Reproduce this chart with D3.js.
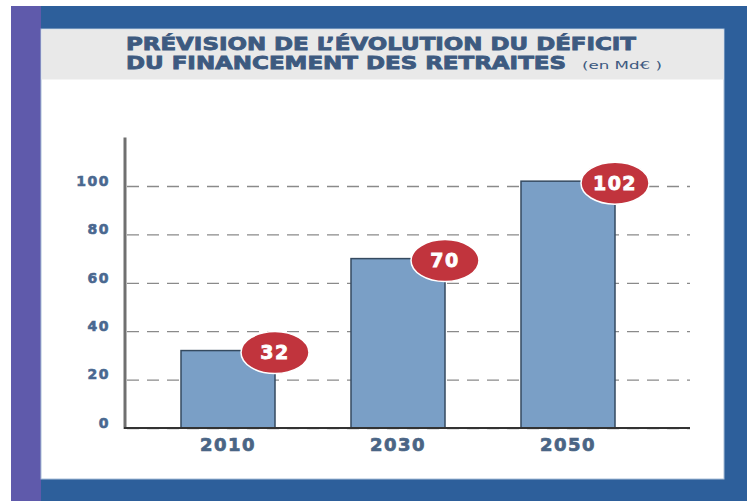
<!DOCTYPE html>
<html>
<head>
<meta charset="utf-8">
<script src="https://cdn.jsdelivr.net/npm/d3@7"></script>
<style>
  body { margin: 0; background: #fff; }
  svg { display: block; }
</style>
</head>
<body>
<div id="chart"></div>
<script>
// Données
const years = ["2010", "2030", "2050"];
const deficits = [32, 70, 102];
const yTicks = [0, 20, 40, 60, 80, 100];
const titleLines = ["PRÉVISION DE L’ÉVOLUTION DU DÉFICIT", "DU FINANCEMENT DES RETRAITES"];
const unitLabel = "(en Md€ )";

const W = 747, H = 501;
const svg = d3.select("#chart").append("svg")
    .attr("width", W)
    .attr("height", H);

// Cadre
svg.append("rect").attr("x", 11).attr("y", 6).attr("width", 30).attr("height", H - 6).attr("fill", "#5f5aab");
svg.append("rect").attr("x", 41).attr("y", 6).attr("width", W - 41).attr("height", H - 6).attr("fill", "#2d5f9b");
svg.append("rect").attr("x", 41).attr("y", 29).attr("width", 683).attr("height", 450)
    .attr("fill", "#fff").attr("stroke", "#a9bfd8").attr("stroke-width", 1);
svg.append("rect").attr("x", 41.5).attr("y", 29.5).attr("width", 682).attr("height", 50).attr("fill", "#e9e9e9");

// Titre (trait léger pour épaissir les lettres)
const font = "'DejaVu Sans', Verdana, sans-serif";
const titleWidths = [510, 440];
titleLines.forEach((t, i) => {
    svg.append("text")
        .attr("x", 126)
        .attr("y", 50 + i * 19)
        .attr("font-family", font)
        .attr("font-weight", "bold")
        .attr("font-size", 17)
        .attr("fill", "#3d5a80")
        .attr("stroke", "#3d5a80")
        .attr("stroke-width", 0.8)
        .attr("textLength", titleWidths[i])
        .attr("lengthAdjust", "spacingAndGlyphs")
        .text(t);
});
svg.append("text")
    .attr("x", 582)
    .attr("y", 69)
    .attr("font-family", font)
    .attr("font-size", 10)
    .attr("fill", "#3d5a80")
    .attr("textLength", 80)
    .attr("lengthAdjust", "spacingAndGlyphs")
    .text(unitLabel);

// Échelles
const x0 = 125, x1 = 690, yBase = 428;
const x = d3.scaleBand()
    .domain(years)
    .range([130, 666])
    .paddingInner(0.447)
    .paddingOuter(0.3);

const y = d3.scaleLinear()
    .domain([0, 120])
    .range([yBase, yBase - 120 * 2.42]);

// Grille + étiquettes Y
const gy = svg.append("g")
    .attr("transform", `translate(${x0},0)`)
    .call(d3.axisLeft(y).tickValues(yTicks).tickSize(-(x1 - x0)).tickPadding(15));
gy.select(".domain").remove();
gy.selectAll(".tick line")
    .attr("stroke", "#8a8a8a")
    .attr("stroke-width", 1.3)
    .attr("stroke-dasharray", "12,8")
    .attr("x1", 2);
gy.selectAll(".tick text")
    .attr("dy", "-0.05em")
    .attr("font-family", font)
    .attr("font-weight", "bold")
    .attr("font-size", 14)
    .attr("letter-spacing", 1.5)
    .attr("fill", "#4a6890")
    .attr("stroke", "#4a6890")
    .attr("stroke-width", 0.6);

// Barres
svg.selectAll(".bar")
    .data(deficits)
    .enter()
    .append("rect")
    .attr("class", "bar")
    .attr("x", (d, i) => x(years[i]))
    .attr("y", d => y(d))
    .attr("width", x.bandwidth())
    .attr("height", d => yBase - y(d))
    .attr("fill", "#7a9fc6")
    .attr("stroke", "#354a60")
    .attr("stroke-width", 1.5);

// Axe Y (trait vertical)
svg.append("line")
    .attr("x1", x0).attr("x2", x0)
    .attr("y1", y(120)).attr("y2", yBase + 1)
    .attr("stroke", "#707070")
    .attr("stroke-width", 3);

// Axe X
const gx = svg.append("g")
    .attr("transform", `translate(0,${yBase})`)
    .call(d3.axisBottom(x).tickSize(0).tickPadding(10));
gx.select(".domain").remove();
gx.selectAll(".tick text")
    .attr("font-family", font)
    .attr("font-weight", "bold")
    .attr("font-size", 18)
    .attr("letter-spacing", 1.5)
    .attr("fill", "#4a6585")
    .attr("stroke", "#4a6585")
    .attr("stroke-width", 0.7);
svg.append("line")
    .attr("x1", x0 - 1).attr("x2", x1)
    .attr("y1", yBase).attr("y2", yBase)
    .attr("stroke", "#333")
    .attr("stroke-width", 2);

// Pastilles de valeur
const badges = svg.selectAll(".badge")
    .data(deficits)
    .enter()
    .append("g")
    .attr("class", "badge")
    .attr("transform", (d, i) => `translate(${x(years[i]) + x.bandwidth()},${y(d) + 2})`);
badges.append("ellipse")
    .attr("rx", 34)
    .attr("ry", 21)
    .attr("fill", "#c1343d")
    .attr("stroke", "#fff")
    .attr("stroke-width", 1.5);
badges.append("text")
    .attr("text-anchor", "middle")
    .attr("dy", "0.36em")
    .attr("font-family", font)
    .attr("font-weight", "bold")
    .attr("font-size", 19)
    .attr("letter-spacing", 1.5)
    .attr("fill", "#fff")
    .attr("stroke", "#fff")
    .attr("stroke-width", 0.8)
    .text(d => d);
</script>
</body>
</html>
